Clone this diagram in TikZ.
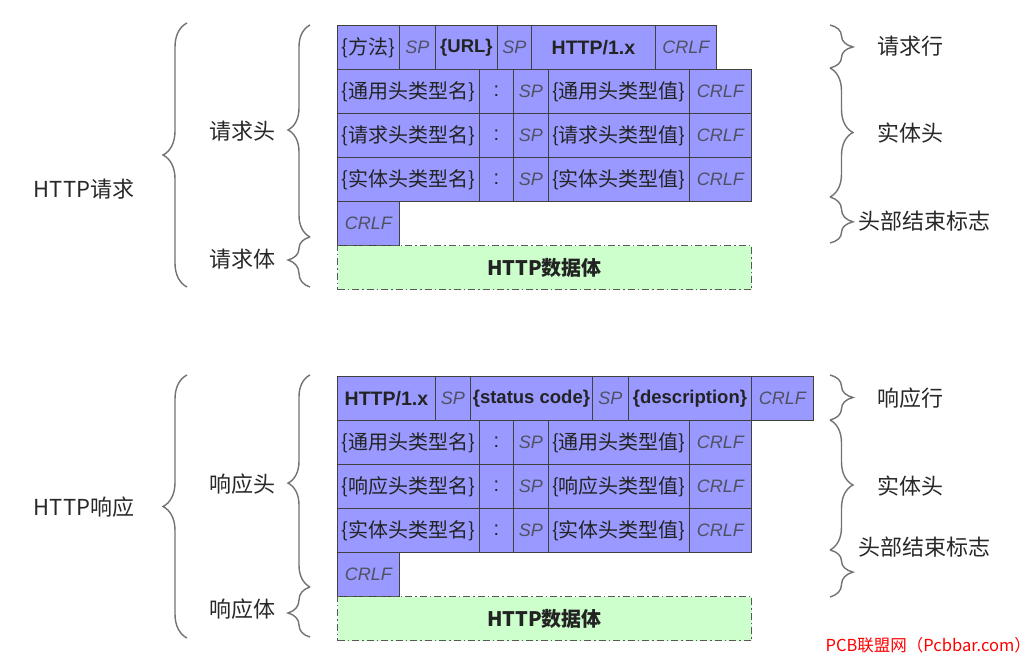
\documentclass[tikz,border=0pt]{standalone}
\usepackage{fontspec}
\setmainfont{Liberation Sans}
\newfontfamily\cjk{Noto Sans CJK SC}
\usetikzlibrary{decorations.pathreplacing}
\definecolor{cellblue}{RGB}{153,153,255}
\definecolor{bodygreen}{RGB}{204,255,204}
\definecolor{txt}{RGB}{35,35,35}
\definecolor{itx}{RGB}{80,80,100}
\definecolor{brc}{RGB}{115,115,115}
\definecolor{lbl}{RGB}{40,40,40}
\tikzset{
  cell/.style={draw=black!75, fill=cellblue, line width=0.9pt, inner sep=0pt,
    anchor=north west, minimum height=44pt, text=txt,
    font=\cjk\fontsize{20}{20}\selectfont},
  bld/.style={font=\bfseries\fontsize{18.5}{18.5}\selectfont},
  itl/.style={text=itx, font=\itshape\fontsize{18}{18}\selectfont},
  colon/.style={font=\fontsize{20}{20}\selectfont},
  bodybox/.style={draw=black!65, fill=bodygreen, line width=1.1pt,
    dash pattern=on 7pt off 3pt on 1.5pt off 3pt,
    inner sep=0pt, anchor=north west, minimum height=44pt, minimum width=414pt,
    text=txt, font=\cjk\bfseries\fontsize{20}{20}\selectfont},
  lab/.style={text=lbl, font=\cjk\fontsize{22}{22}\selectfont, inner sep=0pt},
  brc/.style={draw=brc, line width=1.4pt, decorate},
}
\begin{document}
\begin{tikzpicture}[x=1pt,y=-1pt]
\useasboundingbox[fill=white] (0,0) rectangle (1036,660);

% ---------------- request ----------------
\node[cell,minimum width=62pt] (ra1) at (337,25) {\{方法\}};
\node[cell,minimum width=36pt,itl] (ra2) at (399,25) {SP};
\node[cell,minimum width=62pt,bld] (ra3) at (435,25) {\{URL\}};
\node[cell,minimum width=34pt,itl] (ra4) at (497,25) {SP};
\node[cell,minimum width=124pt,bld,font=\bfseries\fontsize{19.5}{19.5}\selectfont] (ra5) at (531,25) {HTTP/1.x};
\node[cell,minimum width=61pt,itl] (ra6) at (655,25) {CRLF};

\node[cell,minimum width=142pt] (rb1) at (337,69) {\{通用头类型名\}};
\node[cell,minimum width=34pt,colon] (rb2) at (479,69) {:};
\node[cell,minimum width=35pt,itl] (rb3) at (513,69) {SP};
\node[cell,minimum width=141pt] (rb4) at (548,69) {\{通用头类型值\}};
\node[cell,minimum width=62pt,itl] (rb5) at (689,69) {CRLF};

\node[cell,minimum width=142pt] (rc1) at (337,113) {\{请求头类型名\}};
\node[cell,minimum width=34pt,colon] (rc2) at (479,113) {:};
\node[cell,minimum width=35pt,itl] (rc3) at (513,113) {SP};
\node[cell,minimum width=141pt] (rc4) at (548,113) {\{请求头类型值\}};
\node[cell,minimum width=62pt,itl] (rc5) at (689,113) {CRLF};

\node[cell,minimum width=142pt] (rd1) at (337,157) {\{实体头类型名\}};
\node[cell,minimum width=34pt,colon] (rd2) at (479,157) {:};
\node[cell,minimum width=35pt,itl] (rd3) at (513,157) {SP};
\node[cell,minimum width=141pt] (rd4) at (548,157) {\{实体头类型值\}};
\node[cell,minimum width=62pt,itl] (rd5) at (689,157) {CRLF};

\node[cell,minimum width=62pt,itl] (re1) at (337,201) {CRLF};
\node[bodybox] (rbody) at (337,245) {HTTP数据体};

% ---------------- response ----------------
\node[cell,minimum width=98pt,bld,font=\bfseries\fontsize{19.5}{19.5}\selectfont] (sa1) at (337,376) {HTTP/1.x};
\node[cell,minimum width=35pt,itl] (sa2) at (435,376) {SP};
\node[cell,minimum width=122pt,bld] (sa3) at (470,376) {\{status code\}};
\node[cell,minimum width=36pt,itl] (sa4) at (592,376) {SP};
\node[cell,minimum width=123pt,bld] (sa5) at (628,376) {\{description\}};
\node[cell,minimum width=62pt,itl] (sa6) at (751,376) {CRLF};

\node[cell,minimum width=142pt] (sb1) at (337,420) {\{通用头类型名\}};
\node[cell,minimum width=34pt,colon] (sb2) at (479,420) {:};
\node[cell,minimum width=35pt,itl] (sb3) at (513,420) {SP};
\node[cell,minimum width=141pt] (sb4) at (548,420) {\{通用头类型值\}};
\node[cell,minimum width=62pt,itl] (sb5) at (689,420) {CRLF};

\node[cell,minimum width=142pt] (sc1) at (337,464) {\{响应头类型名\}};
\node[cell,minimum width=34pt,colon] (sc2) at (479,464) {:};
\node[cell,minimum width=35pt,itl] (sc3) at (513,464) {SP};
\node[cell,minimum width=141pt] (sc4) at (548,464) {\{响应头类型值\}};
\node[cell,minimum width=62pt,itl] (sc5) at (689,464) {CRLF};

\node[cell,minimum width=142pt] (sd1) at (337,508) {\{实体头类型名\}};
\node[cell,minimum width=34pt,colon] (sd2) at (479,508) {:};
\node[cell,minimum width=35pt,itl] (sd3) at (513,508) {SP};
\node[cell,minimum width=141pt] (sd4) at (548,508) {\{实体头类型值\}};
\node[cell,minimum width=62pt,itl] (sd5) at (689,508) {CRLF};

\node[cell,minimum width=62pt,itl] (se1) at (337,552) {CRLF};
\node[bodybox] (sbody) at (337,596) {HTTP数据体};

% ---------------- labels ----------------
\node[lab] (lreq) at (84,189) {HTTP请求};
\node[lab] (lreqh) at (242,131) {请求头};
\node[lab] (lreqb) at (242,259) {请求体};
\node[lab] (lrsp) at (84,507) {HTTP响应};
\node[lab] (lrsph) at (242,484) {响应头};
\node[lab] (lrspb) at (242,609) {响应体};

\node[lab] (rreql) at (910,46) {请求行};
\node[lab] (rreqe) at (910,133) {实体头};
\node[lab,anchor=west] (rreqend) at (858,221) {头部结束标志};
\node[lab] (rrspl) at (910,398) {响应行};
\node[lab] (rrspe) at (910,486) {实体头};
\node[lab,anchor=west] (rrspend) at (858,547) {头部结束标志};

% ---------------- brace coordinates ----------------
\coordinate (ob1t) at (187,23);  \coordinate (ob1b) at (187,287);
\coordinate (ib1t) at (310,25);  \coordinate (ib1m) at (310,237); \coordinate (ib1b) at (310,287);
\coordinate (ob2t) at (187,375); \coordinate (ob2b) at (187,638);
\coordinate (ib2t) at (310,375); \coordinate (ib2m) at (310,587); \coordinate (ib2b) at (310,637);

\coordinate (rb1a) at (830,25);  \coordinate (rb1b) at (830,68);
\coordinate (rb1c) at (830,197); \coordinate (rb1d) at (830,243);
\coordinate (rb2a) at (830,375); \coordinate (rb2b) at (830,420);
\coordinate (rb2c) at (830,550); \coordinate (rb2d) at (830,597);

% left braces (tip pointing left)
\draw[brc, decoration={brace,amplitude=24pt,aspect=0.5}] (ob1b) -- (ob1t);
\draw[brc, decoration={brace,amplitude=22pt,aspect=0.505}] (ib1m) -- (ib1t);
\draw[brc, decoration={brace,amplitude=22pt,aspect=0.54}] (ib1b) -- (ib1m);
\draw[brc, decoration={brace,amplitude=24pt,aspect=0.5}] (ob2b) -- (ob2t);
\draw[brc, decoration={brace,amplitude=22pt,aspect=0.49}] (ib2m) -- (ib2t);
\draw[brc, decoration={brace,amplitude=22pt,aspect=0.48}] (ib2b) -- (ib2m);

% right braces (tip pointing right)
\draw[brc, decoration={brace,amplitude=23pt,aspect=0.51}] (rb1a) -- (rb1b);
\draw[brc, decoration={brace,amplitude=23pt,aspect=0.5}] (rb1b) -- (rb1c);
\draw[brc, decoration={brace,amplitude=23pt,aspect=0.54}] (rb1c) -- (rb1d);
\draw[brc, decoration={brace,amplitude=23pt,aspect=0.5}] (rb2a) -- (rb2b);
\draw[brc, decoration={brace,amplitude=23pt,aspect=0.5}] (rb2b) -- (rb2c);
\draw[brc, decoration={brace,amplitude=23pt,aspect=0.47}] (rb2c) -- (rb2d);

% watermark
\node[text=red, font=\cjk\fontsize{16.5}{16.5}\selectfont, anchor=east, inner sep=0pt] (wm) at (1031,645) {PCB联盟网（Pcbbar.com）};
\end{tikzpicture}
\end{document}
